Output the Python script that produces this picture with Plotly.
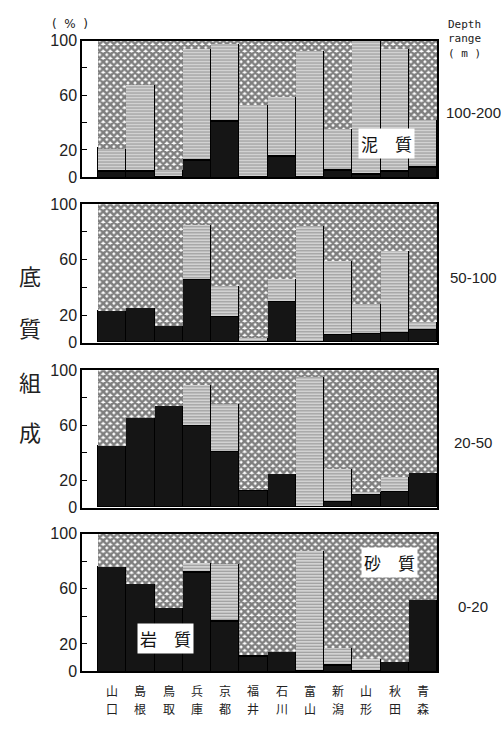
import plotly.graph_objects as go

pref_row1 = ["山", "島", "鳥", "兵", "京", "福", "石", "富", "新", "山", "秋", "青"]
pref_row2 = ["口", "根", "取", "庫", "都", "井", "川", "山", "潟", "形", "田", "森"]
depth_ranges = ["100-200", "50-100", "20-50", "0-20"]

# rock (岩質) and mud (泥質) percentages; sand (砂質) is the remainder to 100
rock_100_200 = [4, 4, 0, 12, 41, 0, 15, 0, 5, 2, 4, 7]
mud_100_200 = [17, 64, 6, 82, 57, 53, 44, 93, 31, 98, 90, 35]
rock_50_100 = [23, 25, 12, 45, 18, 0, 29, 0, 5, 6, 7, 9]
mud_50_100 = [0, 0, 0, 40, 23, 3, 17, 84, 54, 22, 59, 6]
rock_20_50 = [45, 65, 74, 59, 40, 12, 24, 0, 4, 9, 11, 25]
mud_20_50 = [0, 0, 0, 30, 35, 1, 0, 95, 24, 2, 11, 0]
rock_0_20 = [76, 64, 46, 72, 36, 11, 14, 0, 4, 0, 7, 52]
mud_0_20 = [0, 0, 0, 7, 42, 1, 0, 88, 13, 9, 0, 0]

panels = [(rock_100_200, mud_100_200), (rock_50_100, mud_50_100),
          (rock_20_50, mud_20_50), (rock_0_20, mud_0_20)]

W, H = 501, 730
x_left, x_right, bar_start = 82, 437, 98
panel_px = [(33.3, 173.3), (201, 342.7), (371, 511.7), (538.3, 679.3)]

fig = go.Figure()
xs = list(range(12))
narrow = "Liberation Sans Narrow, Liberation Sans, Arial"

for i, (rock, mud) in enumerate(panels):
    n = i + 1
    xa = "x" if n == 1 else f"x{n}"
    ya = "y" if n == 1 else f"y{n}"
    sand = [100 - r - m for r, m in zip(rock, mud)]
    fig.add_trace(go.Bar(
        x=xs, y=[r if r > 0 else None for r in rock], xaxis=xa, yaxis=ya,
        marker=dict(color="#151515", line=dict(color="#000", width=1)),
        showlegend=False, hoverinfo="skip"))
    fig.add_trace(go.Bar(
        x=xs, y=[m if m > 0 else None for m in mud], xaxis=xa, yaxis=ya,
        marker=dict(color="#c0c0c0", line=dict(color="#000", width=1.5),
                    pattern=dict(shape="-", size=3, solidity=0.35,
                                 fgcolor="#555", bgcolor="#d2d2d2")),
        showlegend=False, hoverinfo="skip"))
    fig.add_trace(go.Bar(
        x=xs, y=[s if s > 0 else None for s in sand], xaxis=xa, yaxis=ya,
        marker=dict(color="white", line=dict(width=0),
                    pattern=dict(shape="x", size=5, solidity=0.75,
                                 fgcolor="#000", bgcolor="white")),
        showlegend=False, hoverinfo="skip"))

    top, bot = panel_px[i]
    ydom = [1 - bot / H, 1 - top / H]
    xdom = [x_left / W, x_right / W]
    bar_w = (x_right - bar_start) / 12.0
    gap = (bar_start - x_left) / bar_w
    xaxis = dict(domain=xdom, anchor=ya, range=[-0.5 - gap, 11.5],
                 showline=True, linecolor="black", linewidth=1.5, mirror=True,
                 ticks="", showgrid=False, zeroline=False,
                 showticklabels=False, fixedrange=True)
    yaxis = dict(domain=ydom, anchor=xa, range=[0, 100],
                 showline=True, linecolor="black", linewidth=1.5, mirror=True,
                 ticks="inside", ticklen=5, tickcolor="black", tickwidth=1,
                 tickmode="array", tickvals=[0, 20, 40, 60, 80, 100],
                 ticktext=["0", "20", "", "60", "", "100"],
                 tickfont=dict(family=narrow, size=16, color="#222"),
                 showgrid=False, zeroline=False, fixedrange=True)
    fig.layout["xaxis" if n == 1 else f"xaxis{n}"] = xaxis
    fig.layout["yaxis" if n == 1 else f"yaxis{n}"] = yaxis

    fig.add_annotation(x=473 / W, y=1 - ((top + bot) / 2 + 4) / H, xref="paper", yref="paper",
                       text=depth_ranges[i], showarrow=False,
                       font=dict(family=narrow, size=15, color="#222"),
                       xanchor="center", yanchor="middle")

# prefecture names below the bottom panel, positioned on its x scale
for k in xs:
    fig.add_annotation(x=k, y=1 - 699 / H, xref="x4", yref="paper", text=pref_row1[k],
                       showarrow=False, xanchor="center", yanchor="middle",
                       font=dict(family="Noto Sans CJK JP", size=12, color="#222"))
    fig.add_annotation(x=k, y=1 - 717 / H, xref="x4", yref="paper", text=pref_row2[k],
                       showarrow=False, xanchor="center", yanchor="middle",
                       font=dict(family="Noto Sans CJK JP", size=12, color="#222"))

ann_font = dict(family="Noto Sans CJK JP", size=17, color="#111")
fig.add_annotation(x=386 / W, y=1 - 139 / H, xref="paper", yref="paper",
                   text="泥　質", showarrow=False, font=ann_font,
                   bgcolor="white", borderpad=2, xanchor="center", yanchor="middle")
fig.add_annotation(x=389 / W, y=1 - 568 / H, xref="paper", yref="paper",
                   text="砂　質", showarrow=False, font=ann_font,
                   bgcolor="white", borderpad=2, xanchor="center", yanchor="middle")
fig.add_annotation(x=165 / W, y=1 - 646 / H, xref="paper", yref="paper",
                   text="岩　質", showarrow=False, font=ann_font,
                   bgcolor="white", borderpad=2, xanchor="center", yanchor="middle")

fig.add_annotation(x=70 / W, y=1 - 16 / H, xref="paper", yref="paper",
                   text="(  %  )", showarrow=False,
                   font=dict(family="DejaVu Sans", size=12, color="#222"),
                   xanchor="center", yanchor="middle")
fig.add_annotation(x=446 / W, y=1 - 8 / H, xref="paper", yref="paper",
                   text="Depth<br>range<br>( m )", showarrow=False, align="left",
                   font=dict(family="DejaVu Sans Mono", size=11, color="#222"),
                   xanchor="left", yanchor="top")
for ch, yy in zip("底質組成", [273, 327, 382, 433]):
    fig.add_annotation(x=30 / W, y=1 - yy / H, xref="paper", yref="paper",
                       text=ch, showarrow=False,
                       font=dict(family="Noto Sans CJK JP", size=22, color="#222"),
                       xanchor="center", yanchor="middle")

fig.update_layout(width=W, height=H, barmode="stack", bargap=0,
                  margin=dict(l=0, r=0, t=0, b=0),
                  paper_bgcolor="white", plot_bgcolor="white")

fig.write_html("out.html", config={"displayModeBar": False},
               post_script="document.body.style.margin='0';document.body.style.overflow='hidden';")
